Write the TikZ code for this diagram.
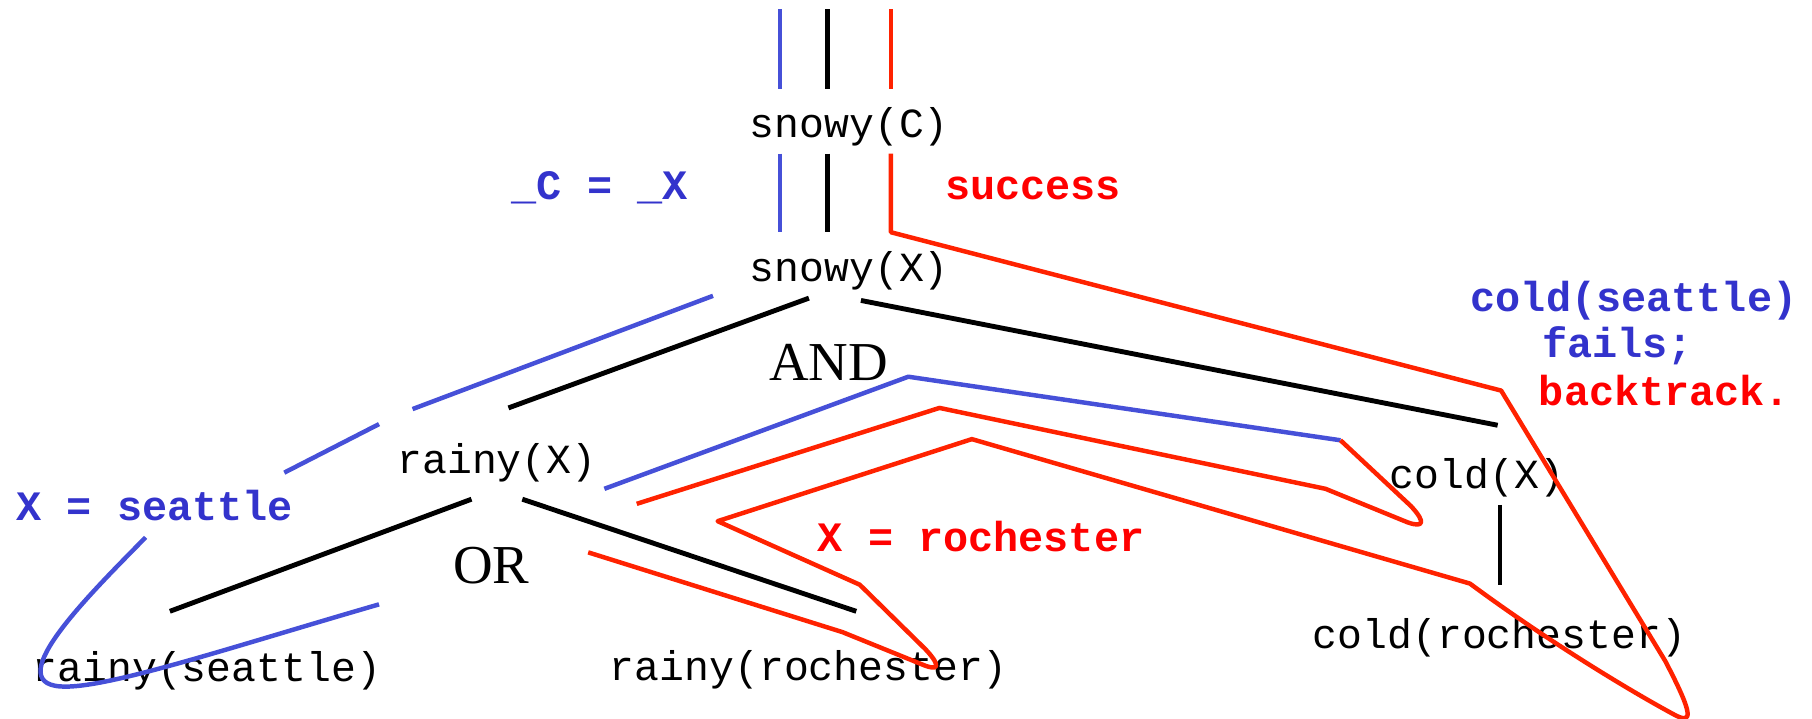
\documentclass[tikz,border=0pt]{standalone}
\usepackage{fontspec}
\setmonofont{Liberation Mono}
\newfontfamily\timesfont{Liberation Serif}
\definecolor{traceblue}{RGB}{70,80,216}
\definecolor{labelblue}{RGB}{51,51,204}
\definecolor{tracered}{RGB}{255,34,0}
\definecolor{labelred}{RGB}{255,0,0}

\begin{document}
\begin{tikzpicture}[x=0.01cm,y=-0.01cm,
    goal/.style={inner sep=0pt,anchor=base,font=\ttfamily\fontsize{10.2}{12}\selectfont},
    note/.style={inner sep=0pt,anchor=base,font=\ttfamily\bfseries\fontsize{10.3}{12}\selectfont},
    conj/.style={inner sep=0pt,anchor=base,font=\timesfont\fontsize{13.5}{16}\selectfont},
    treeline/.style={line width=1.2pt},
    bluetrace/.style={traceblue,line width=1.1pt,line join=round},
    redtrace/.style={tracered,line width=1.1pt,line join=round}]
    \useasboundingbox (0,0) rectangle (1568,622);

    % The goals
    \node[goal] (snc) at (735,119) {snowy(C)};
    \node[goal] (snx) at (735,243.7) {snowy(X)};
    \node[goal] (rnx) at (430,409.5) {rainy(X)};
    \node[goal] (cdx) at (1278,422.5) {cold(X)};
    \node[goal] (rns) at (179,590) {rainy(seattle)};
    \node[goal] (rnr) at (700,588.5) {rainy(rochester)};
    \node[goal] (cdr) at (1297.5,561) {cold(rochester)};
    \node[conj] (and) at (717,329) {AND};
    \node[conj] (or) at (425,505) {OR};

    % Notes along the search
    \node[note,labelblue] (unify) at (519,173) {\_C = \_X};
    \node[note,labelred] (succ) at (894,173) {success};
    \node[note,labelblue] (xsea) at (134,450) {X = seattle};
    \node[note,labelred] (xroc) at (849,477) {X = rochester};
    \node[note,labelblue,anchor=base west] (csea) at (1272,269.7) {cold(seattle)};
    \node[note,labelblue,anchor=base west] (fails) at (1334,309) {fails;};
    \node[note,labelred,anchor=base west] (back) at (1331,350.5) {backtrack.};

    % Ends of the tree links
    \coordinate (top) at (716,8);
    \coordinate (snc-up) at (716,77);
    \coordinate (snc-dn) at (716,133);
    \coordinate (snx-up) at (716,201);
    \coordinate (snx-l) at (700,258);
    \coordinate (snx-r) at (745,260);
    \coordinate (rnx-up) at (440,353);
    \coordinate (cdx-up) at (1296,368);
    \coordinate (rnx-l) at (408,432);
    \coordinate (rnx-r) at (452,432);
    \coordinate (rns-up) at (147,529);
    \coordinate (rnr-up) at (741,529);
    \coordinate (cdx-dn) at (1298,437);
    \coordinate (cdr-up) at (1298,506);

    % The tree
    \draw[treeline] (top) -- (snc-up);
    \draw[treeline] (snc-dn) -- (snx-up);
    \draw[treeline] (snx-l) -- (rnx-up);
    \draw[treeline] (snx-r) -- (cdx-up);
    \draw[treeline] (rnx-l) -- (rns-up);
    \draw[treeline] (rnx-r) -- (rnr-up);
    \draw[treeline] (cdx-dn) -- (cdr-up);

    % First pass (blue)
    \draw[bluetrace] (675,8) -- (675,77);
    \draw[bluetrace] (675,133) -- (675,201);
    \draw[bluetrace] (617,256) -- (357,354);
    \draw[bluetrace] (328,367) -- (246,409);
    \draw[bluetrace] (126,465) .. controls (80,512) and (0,590) .. (52,594)
        .. controls (90,597) and (200,560) .. (328,523);
    \draw[bluetrace] (523,423) -- (786,326) -- (1160,381);

    % Backtracking (red)
    \draw[redtrace] (1160,381) -- (1221,438) .. controls (1234,452) and (1232,457) .. (1218,452)
        -- (1147,423) -- (813,353) -- (551,436);
    \draw[redtrace] (771,8) -- (771,77);
    \draw[redtrace] (771,133) -- (771,201) -- (1299,338)
        -- (1441,572) .. controls (1465,618) and (1466,628) .. (1448,618)
        .. controls (1400,592) and (1330,548) .. (1272,505)
        -- (841,380) -- (621,451) -- (744,506)
        -- (801,562) .. controls (815,577) and (812,581) .. (798,575)
        -- (729,547) -- (509,478);
\end{tikzpicture}
\end{document}
